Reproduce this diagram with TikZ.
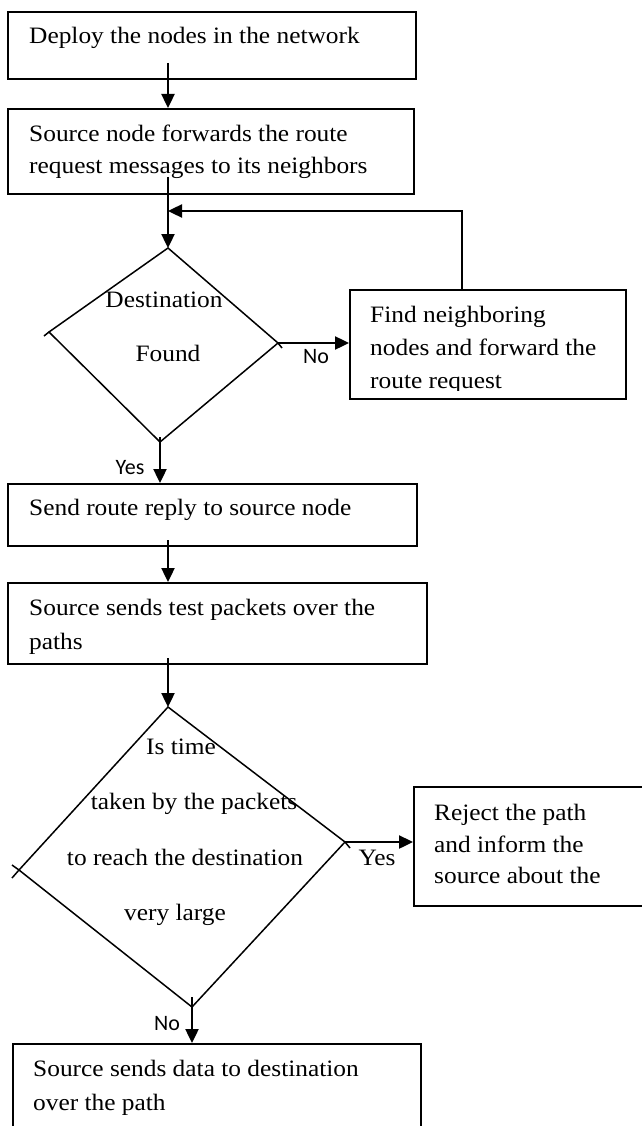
\documentclass[tikz,border=0pt]{standalone}
\usepackage{fontspec}
\setmainfont{Liberation Serif}[FakeStretch=1.08]
\newfontfamily\lblfont{Carlito}
\usetikzlibrary{arrows.meta}
\tikzset{
  x=1pt, y=-1pt,
  box/.style={draw, line width=2pt, inner sep=0pt, anchor=north west},
  txt/.style={anchor=west, inner sep=0pt, font=\fontsize{23.5}{28}\selectfont, text height=15pt, text depth=5pt},
  ctxt/.style={anchor=center, inner sep=0pt, font=\fontsize{23.5}{28}\selectfont, text height=15pt, text depth=5pt},
  lbl/.style={inner sep=0pt, font=\lblfont\fontsize{22}{26}\selectfont},
  dia/.style={draw, line width=1.5pt},
  arr/.style={draw, line width=2.4pt, -{Triangle[length=14pt,width=13pt]}},
  plain/.style={draw, line width=2.4pt}
}
\begin{document}
\begin{tikzpicture}
\useasboundingbox (0,0) rectangle (641,1126);

% boxes
\node[box, minimum width=408pt, minimum height=67pt] (b1) at (7,11) {};
\node[box, minimum width=406pt, minimum height=85pt] (b2) at (7,108) {};
\node[box, minimum width=276pt, minimum height=109pt] (rb1) at (349,289) {};
\node[box, minimum width=409pt, minimum height=62pt] (b4) at (7,483) {};
\node[box, minimum width=419pt, minimum height=81pt] (b5) at (7,582) {};
\node[box, minimum width=260pt, minimum height=119pt] (rj) at (413,786) {};
\node[box, minimum width=408pt, minimum height=100pt] (b7) at (12,1043) {};

% texts
\node[txt] (t1) at (29,39) {Deploy the nodes in the network};
\node[txt] (t2a) at (29,137) {Source node forwards the route};
\node[txt] (t2b) at (29,169) {request messages to its neighbors};
\begin{scope}
\clip (350,290) rectangle (624,390);
\node[txt] (t3a) at (370,317) {Find neighboring};
\node[txt] (t3b) at (370,350) {nodes and forward the};
\node[txt] (t3c) at (370,383) {route request};
\end{scope}
\node[txt] (t4) at (29,510) {Send route reply to source node};
\node[txt] (t5a) at (29,610) {Source sends test packets over the};
\node[txt] (t5b) at (29,644) {paths};
\node[txt] (t6a) at (434,815) {Reject the path};
\node[txt] (t6b) at (434,847) {and inform the};
\node[txt] (t6c) at (434,878) {source about the};
\node[txt] (t7a) at (33,1071) {Source sends data to destination};
\node[txt] (t7b) at (33,1105) {over the path};

% diamond 1
\coordinate (d1t) at (168,248);
\coordinate (d1r) at (278,343);
\coordinate (d1b) at (160,442);
\coordinate (d1l) at (49,332);
\draw[dia] (d1t) -- (d1r) -- (d1b) -- (d1l) -- cycle;
\draw[dia] (d1l) -- (44,336);
\draw[dia] (d1r) -- (282,348);
\node[ctxt] (dt1) at (164,302) {Destination};
\node[ctxt] (dt2) at (168,356) {Found};

% diamond 2
\coordinate (d2t) at (168,707);
\coordinate (d2r) at (345,842);
\coordinate (d2b) at (192,1007);
\coordinate (d2l) at (19,870);
\draw[dia] (d2t) -- (d2r) -- (d2b) -- (d2l) -- cycle;
\draw[dia] (d2l) -- (12,878);
\draw[dia] (d2l) -- (12,865);
\draw[dia] (d2r) -- (350,848);
\node[ctxt] (e1) at (181,749) {Is time};
\node[ctxt] (e2) at (194,804) {taken by the packets};
\node[ctxt] (e3) at (185,860) {to reach the destination};
\node[ctxt] (e4) at (175,915) {very large};

% connectors
\coordinate (s1) at (168,63);
\draw[arr] (s1) -- (b2.north -| s1);
\coordinate (s2) at (168,177);
\draw[arr] (s2) -- (d1t);
\coordinate (fb) at (462,211);
\draw[arr] (rb1.north -| fb) -- (fb) -- (fb -| d1t);
\draw[arr] (d1r) -- (d1r -| rb1.west);
\node[lbl] (no1) at (316,357) {No};
\coordinate (s3) at (160,437);
\draw[arr] (s3) -- (s3 |- b4.north);
\node[lbl] (yes1) at (130,468) {Yes};
\coordinate (s4) at (168,540);
\draw[arr] (s4) -- (s4 |- b5.north);
\coordinate (s5) at (168,658);
\draw[arr] (s5) -- (d2t);
\draw[arr] (d2r) -- (d2r -| rj.west);
\node[ctxt] (yes2) at (377,860) {Yes};
\coordinate (s6) at (192,997);
\draw[arr] (s6) -- (s6 |- b7.north);
\node[lbl] (no2) at (167,1024) {No};
\end{tikzpicture}
\end{document}
